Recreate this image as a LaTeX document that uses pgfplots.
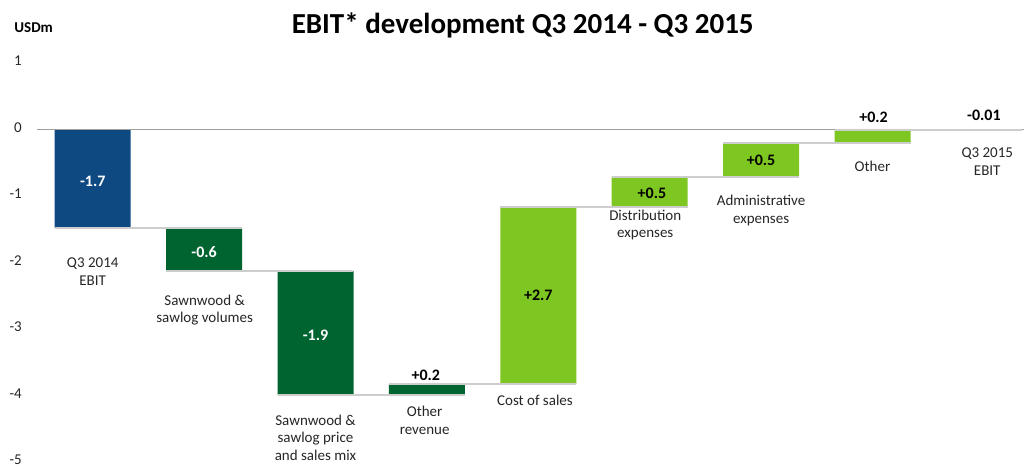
\documentclass[border=0pt]{standalone}
\usepackage{fontspec}
\setmainfont{Carlito}
\usepackage{pgfplots}
\pgfplotsset{compat=1.18}
\definecolor{cblue}{RGB}{15,73,130}
\definecolor{dgreen}{RGB}{0,100,48}
\definecolor{lgreen}{RGB}{126,198,34}
\definecolor{conn}{RGB}{205,205,205}
\definecolor{zeroc}{RGB}{160,160,160}
\begin{document}
\begin{tikzpicture}
\useasboundingbox (-37bp,-4bp) rectangle (987bp,462bp);
\pgfplotsset{common/.style={scale only axis, width=987bp, height=399bp,
  xmin=-0.5, xmax=8.36, ymin=-5, ymax=1, at={(0,0)}, anchor=south west, clip=false}}
\begin{axis}[common, ybar stacked, bar width=76bp,
  axis line style={draw=none}, major tick length=0pt, xtick=\empty,
  ytick={-5,-4,-3,-2,-1,0,1}, yticklabels={-5,-4,-3,-2,-1,0,1},
  yticklabel style={font=\fontsize{15bp}{18bp}\selectfont, anchor=east, inner sep=0pt, xshift=-15bp, yshift=2bp, text=black!85}]
% invisible offsets (top of each step; all values <= 0)
\addplot[draw=none, fill=none] coordinates {(0,0) (1,-1.48) (2,-2.13) (3,-3.83) (4,-1.16) (5,-0.71) (6,-0.20) (7,0) (8,0)};
% totals
\addplot[draw=none, fill=cblue] coordinates {(0,-1.48) (1,0) (2,0) (3,0) (4,0) (5,0) (6,0) (7,0) (8,-0.01)};
% dark green steps (negative effects and other revenue)
\addplot[draw=none, fill=dgreen] coordinates {(0,0) (1,-0.65) (2,-1.86) (3,-0.16) (4,0) (5,0) (6,0) (7,0) (8,0)};
% light green steps
\addplot[draw=none, fill=lgreen] coordinates {(0,0) (1,0) (2,0) (3,0) (4,-2.67) (5,-0.45) (6,-0.51) (7,-0.20) (8,0)};
\end{axis}
\begin{axis}[common, hide axis]
\addplot[zeroc, line width=1.2bp] coordinates {(-0.5,0) (8.36,0)};
\addplot[conn, line width=2bp] coordinates {(-0.341,-1.48) (1.341,-1.48)};
\addplot[conn, line width=2bp] coordinates {(0.659,-2.13) (2.341,-2.13)};
\addplot[conn, line width=2bp] coordinates {(1.659,-3.99) (3.341,-3.99)};
\addplot[conn, line width=2bp] coordinates {(2.659,-3.83) (4.341,-3.83)};
\addplot[conn, line width=2bp] coordinates {(3.659,-1.16) (5.341,-1.16)};
\addplot[conn, line width=2bp] coordinates {(4.659,-0.71) (6.341,-0.71)};
\addplot[conn, line width=2bp] coordinates {(5.659,-0.20) (7.341,-0.20)};
\addplot[conn, line width=2bp] coordinates {(6.659,0) (8.341,0)};
% title and unit
\node[font=\fontsize{29bp}{33bp}\selectfont\bfseries] at (axis cs:3.86,1.57) {EBIT* development Q3 2014 - Q3 2015};
\node[font=\fontsize{15bp}{18bp}\selectfont\bfseries] at (axis cs:-0.53,1.526) {USDm};
% category labels
\begin{scope}[every node/.style={font=\fontsize{15bp}{17.5bp}\selectfont, align=center, text=black!85}]
\node at (axis cs:0,-2.135) {Q3 2014\\EBIT};
\node at (axis cs:1.005,-2.714) {Sawnwood \&\\sawlog volumes};
\node at (axis cs:2.0,-4.63) {Sawnwood \&\\sawlog price\\and sales mix};
\node at (axis cs:2.98,-4.37) {Other\\revenue};
\node at (axis cs:3.97,-4.08) {Cost of sales};
\node at (axis cs:4.96,-1.436) {Distribution\\expenses};
\node at (axis cs:6.0,-1.218) {Administrative\\expenses};
\node at (axis cs:7.0,-0.55) {Other};
\node at (axis cs:8.03,-0.48) {Q3 2015\\EBIT};
\end{scope}
% value labels
\begin{scope}[every node/.style={font=\fontsize{16bp}{19bp}\selectfont\bfseries}]
\node[text=white] at (axis cs:0,-0.775) {-1.7};
\node[text=white] at (axis cs:1.0,-1.84) {-0.6};
\node[text=white] at (axis cs:2.0,-3.09) {-1.9};
\node at (axis cs:2.99,-3.69) {+0.2};
\node at (axis cs:4.0,-2.49) {+2.7};
\node at (axis cs:5.02,-0.955) {+0.5};
\node at (axis cs:6.0,-0.47) {+0.5};
\node at (axis cs:7.01,0.19) {+0.2};
\node at (axis cs:8.0,0.22) {-0.01};
\end{scope}
\end{axis}
\end{tikzpicture}
\end{document}
